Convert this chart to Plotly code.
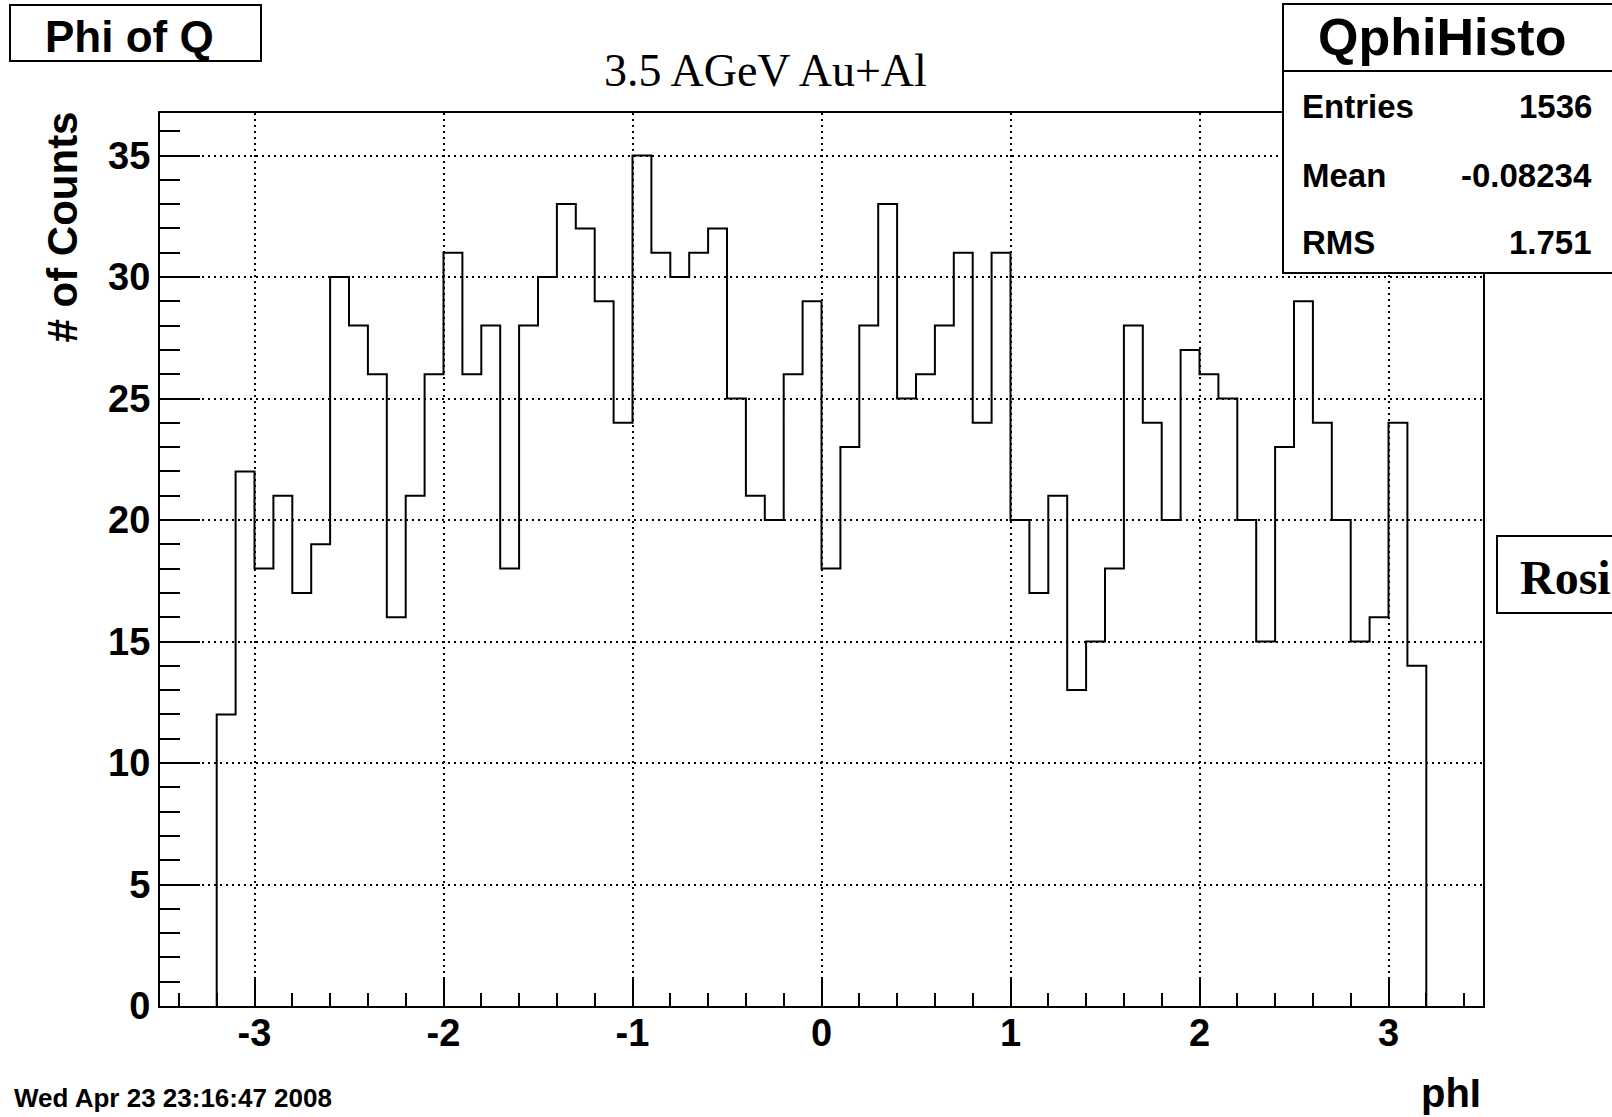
import numpy as np
import plotly.graph_objects as go

# ---------------- data ----------------
bin_low = -3.2
bin_width = 0.1
counts = [12, 22, 18, 21, 17, 19, 30, 28, 26, 16, 21, 26, 31, 26, 28, 18,
          28, 30, 33, 32, 29, 24, 35, 31, 30, 31, 32, 25, 21, 20, 26, 29,
          18, 23, 28, 33, 25, 26, 28, 31, 24, 31, 20, 17, 21, 13, 15, 18,
          28, 24, 20, 27, 26, 25, 20, 15, 23, 29, 24, 20, 15, 16, 24, 14]
x_ticks = [-3, -2, -1, 0, 1, 2, 3]
y_ticks = [0, 5, 10, 15, 20, 25, 30, 35]
stats_title = "QphiHisto"
stats_names = ["Entries", "Mean", "RMS"]
stats_values = ["1536", "-0.08234", "1.751"]
canvas_title = "Phi of Q"
subtitle = "3.5 AGeV Au+Al"
author_text = "Rosi"
x_title = "phI"
y_title = "# of Counts"
date_text = "Wed Apr 23 23:16:47 2008"

# ---------------- geometry ----------------
W, H = 1612, 1117
L, R, T, B = 160, 1483, 113, 1006


def px(x):
    return (x - L) / (R - L)


def py(y):
    return (B - y) / (B - T)


edges = np.round(bin_low + bin_width * np.arange(len(counts) + 1), 4)
xs = [edges[0]] + list(edges[:-1]) + [edges[-1]]
ys = [0] + list(counts) + [0]

SANS = "Liberation Sans"
SERIF = "Liberation Serif"

fig = go.Figure()
fig.add_trace(go.Scatter(x=xs, y=ys, mode="lines", line=dict(color="black", width=2, shape="hv"),
                         hoverinfo="skip", showlegend=False))

fig.update_layout(
    width=W, height=H,
    margin=dict(l=L, r=W - R, t=T, b=H - B, pad=0),
    paper_bgcolor="white", plot_bgcolor="white",
    showlegend=False,
)

fig.update_xaxes(
    range=[-3.5, 3.5], tickmode="array", tickvals=x_ticks, ticktext=[str(v) for v in x_ticks],
    ticks="inside", ticklen=27, tickwidth=2, tickcolor="black",
    minor=dict(dtick=0.2, tick0=0, ticks="inside", ticklen=13, tickwidth=2, tickcolor="black", showgrid=False),
    showgrid=True, gridcolor="black", gridwidth=1.5, griddash="2px,4px",
    showline=True, linecolor="black", linewidth=2, mirror=True, zeroline=False,
    tickfont=dict(family=SANS, size=38, color="black", weight="bold"),
    ticklabelstandoff=-8,
)
fig.update_yaxes(
    range=[0, 36.75], tickmode="array", tickvals=y_ticks, ticktext=[str(v) for v in y_ticks],
    ticks="inside", ticklen=40, tickwidth=2, tickcolor="black",
    minor=dict(dtick=1, tick0=0, ticks="inside", ticklen=20, tickwidth=2, tickcolor="black", showgrid=False),
    showgrid=True, gridcolor="black", gridwidth=1.5, griddash="2px,4px",
    showline=True, linecolor="black", linewidth=2, mirror=True, zeroline=False,
    tickfont=dict(family=SANS, size=38, color="black", weight="bold"),
    ticklabelstandoff=0,
)

shapes = [
    # canvas title box
    dict(type="rect", xref="paper", yref="paper", x0=px(10), x1=px(261), y0=py(61), y1=py(5),
         line=dict(color="black", width=2), fillcolor="white", layer="above"),
    # stats box
    dict(type="rect", xref="paper", yref="paper", x0=px(1283), x1=px(1650), y0=py(273), y1=py(4),
         line=dict(color="black", width=2), fillcolor="white", layer="above"),
    dict(type="line", xref="paper", yref="paper", x0=px(1283), x1=px(1650), y0=py(71), y1=py(71),
         line=dict(color="black", width=2), layer="above"),
    # author box
    dict(type="rect", xref="paper", yref="paper", x0=px(1497), x1=px(1650), y0=py(613), y1=py(536),
         line=dict(color="black", width=2), fillcolor="white", layer="above"),
]
fig.update_layout(shapes=shapes)


def ann(text, x, y, size, family=SANS, bold=True, xanchor="center", yanchor="middle", angle=0):
    fig.add_annotation(text=text, x=px(x), y=py(y), xref="paper", yref="paper",
                       showarrow=False, xanchor=xanchor, yanchor=yanchor, textangle=angle,
                       font=dict(family=family, size=size, color="black",
                                 weight="bold" if bold else "normal"))


ann(canvas_title, 129, 36.8, 44)
ann(subtitle, 765, 70, 46, family=SERIF, bold=False)
ann(stats_title, 1442, 37, 52)
row_y = [107, 175, 242]
for name, val, yy in zip(stats_names, stats_values, row_y):
    ann(name, 1300, yy, 33, xanchor="left")
    ann(val, 1594, yy, 33, xanchor="right")
ann(author_text, 1518, 577.8, 48, family=SERIF, xanchor="left")
ann(y_title, 62, 227.5, 42, angle=-90)
ann(x_title, 1483, 1093, 40, xanchor="right")
ann(date_text, 12, 1098, 26, xanchor="left")

fig.write_html("out.html")
